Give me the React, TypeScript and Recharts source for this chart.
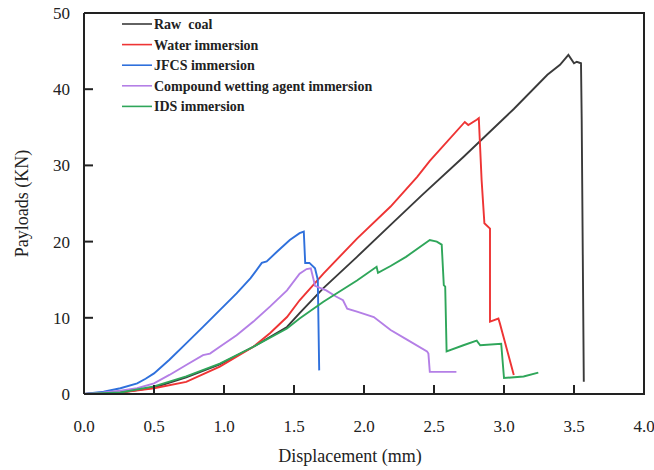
import React from "react";
import { LineChart, Line, XAxis, YAxis, Legend } from "recharts";

// load–displacement curves, [displacement (mm), payload (kN)]
const rawCoal: [number, number][] = [
  [0, 0], [0.26, 0.2], [0.5, 0.85], [0.73, 2.2], [0.97, 3.9], [1.21, 6.2],
  [1.45, 8.8], [1.54, 10.6], [1.71, 13.9], [1.95, 18.0], [2.19, 22.2],
  [2.42, 26.2], [2.71, 31.1], [3.07, 37.4], [3.31, 41.9], [3.4, 43.2],
  [3.46, 44.5], [3.5, 43.4], [3.52, 43.6], [3.55, 43.4], [3.555, 36.0],
  [3.57, 1.6],
];

const waterImmersion: [number, number][] = [
  [0, 0], [0.26, 0.2], [0.5, 0.75], [0.73, 1.6], [0.97, 3.6], [1.21, 6.2],
  [1.33, 8.0], [1.45, 10.1], [1.54, 12.3], [1.71, 15.8], [1.95, 20.4],
  [2.19, 24.6], [2.38, 28.5], [2.47, 30.6], [2.72, 35.7], [2.745, 35.3],
  [2.805, 36.0], [2.82, 36.2], [2.84, 28.1], [2.86, 22.4], [2.9, 21.7],
  [2.9, 9.5], [2.96, 9.9], [2.97, 9.3], [3.07, 2.5],
];

const jfcsImmersion: [number, number][] = [
  [0, 0], [0.14, 0.3], [0.26, 0.75], [0.38, 1.4], [0.44, 2.0], [0.5, 2.7],
  [0.61, 4.5], [0.73, 6.65], [0.85, 8.8], [0.97, 11.0], [1.09, 13.2],
  [1.19, 15.2], [1.27, 17.2], [1.305, 17.4], [1.38, 18.7], [1.47, 20.2],
  [1.54, 21.1], [1.57, 21.3], [1.58, 17.2], [1.61, 17.2], [1.65, 16.5],
  [1.67, 15.0], [1.68, 3.1],
];

const compoundImmersion: [number, number][] = [
  [0, 0], [0.14, 0.2], [0.26, 0.45], [0.38, 0.75], [0.5, 1.4], [0.61, 2.5],
  [0.73, 3.8], [0.85, 5.1], [0.9, 5.3], [0.97, 6.2], [1.09, 7.7],
  [1.21, 9.5], [1.33, 11.5], [1.45, 13.6], [1.54, 15.8], [1.59, 16.4],
  [1.62, 16.5], [1.64, 15.0], [1.65, 14.2], [1.69, 13.9], [1.73, 13.6],
  [1.8, 12.8], [1.85, 12.3], [1.88, 11.2], [1.95, 10.8], [2.07, 10.1],
  [2.19, 8.4], [2.31, 7.1], [2.45, 5.6], [2.46, 5.3], [2.47, 2.9],
  [2.66, 2.9],
];

const idsImmersion: [number, number][] = [
  [0, 0], [0.26, 0.2], [0.5, 1.0], [0.73, 2.3], [0.97, 4.0], [1.21, 6.2],
  [1.45, 8.6], [1.54, 9.9], [1.71, 12.1], [1.95, 14.9], [2.09, 16.7],
  [2.1, 15.9], [2.19, 16.8], [2.3, 18.0], [2.47, 20.2], [2.52, 20.0],
  [2.555, 19.6], [2.57, 14.3], [2.58, 14.1], [2.59, 5.6], [2.71, 6.4],
  [2.805, 7.0], [2.83, 6.4], [2.98, 6.6], [3.0, 2.1], [3.14, 2.3],
  [3.245, 2.8],
];

const xTicks = [0, 0.5, 1, 1.5, 2, 2.5, 3, 3.5, 4];
const yTicks = [0, 10, 20, 30, 40, 50];

const FONT = "'Liberation Serif', 'Times New Roman', serif";
const INK = "#222";

// chart box
const W = 654;
const H = 470;
const M = { top: 13, right: 10, bottom: 0, left: 0 };
const Y_AXIS_W = 84;
const X_AXIS_H = 76;
const PLOT_LEFT = M.left + Y_AXIS_W;
const PLOT_RIGHT = W - M.right;
const PLOT_TOP = M.top;
const PLOT_BOTTOM = H - M.bottom - X_AXIS_H;

const series = [
  { name: "Raw  coal", points: rawCoal, color: "#3a3a3a", key: "raw" },
  { name: "Water immersion", points: waterImmersion, color: "#ee3434", key: "water" },
  { name: "JFCS immersion", points: jfcsImmersion, color: "#2f70dc", key: "jfcs" },
  { name: "Compound wetting agent immersion", points: compoundImmersion, color: "#b47fe6", key: "compound" },
  { name: "IDS immersion", points: idsImmersion, color: "#2fa65a", key: "ids" },
];

const toRows = (pts: [number, number][]) => pts.map(([x, y]) => ({ x, y }));

// bottom ticks point up into the plot, label underneath
const XTick = (props: any) => {
  const { x, y, payload } = props;
  return (
    <g>
      <line x1={x} y1={y} x2={x} y2={y - 9} stroke={INK} strokeWidth={2} />
      <text x={x} y={y + 38} textAnchor='middle' fontSize={17} fill={INK} fontFamily={FONT}>
        {Number(payload.value).toFixed(1)}
      </text>
    </g>
  );
};

// left ticks point right into the plot
const YTick = (props: any) => {
  const { x, y, payload } = props;
  return (
    <g>
      <line x1={x} y1={y} x2={x + 9} y2={y} stroke={INK} strokeWidth={2} />
      <text x={x - 14} y={y + 6} textAnchor='end' fontSize={17} fill={INK} fontFamily={FONT}>
        {payload.value}
      </text>
    </g>
  );
};

// legend overlay spans the whole chart; it also closes the box (top + right edges)
const renderLegend = () => (
  <svg width={W} height={H} style={{ display: "block" }}>
    <polyline
      points={`${PLOT_LEFT},${PLOT_TOP} ${PLOT_RIGHT},${PLOT_TOP} ${PLOT_RIGHT},${PLOT_BOTTOM + 1}`}
      fill='none'
      stroke={INK}
      strokeWidth={2}
    />
    {series.map((s, i) => {
      const cy = 24 + i * 20.6;
      return (
        <g key={s.key}>
          <line x1={122} y1={cy} x2={152} y2={cy} stroke={s.color} strokeWidth={1.6} />
          <text
            x={154}
            y={cy + 5}
            fontSize={14}
            fontWeight='bold'
            fill={INK}
            fontFamily={FONT}
            style={{ whiteSpace: "pre" }}>
            {s.name}
          </text>
        </g>
      );
    })}
  </svg>
);

export default function App() {
  return (
    <div style={{ position: "absolute", left: 0, top: 0, width: W, height: H, background: "#fff" }}>
      <LineChart width={W} height={H} margin={M}>
        <XAxis
          type='number'
          dataKey='x'
          domain={[0, 4]}
          ticks={xTicks}
          interval={0}
          height={X_AXIS_H}
          tickSize={0}
          tickMargin={0}
          tickLine={false}
          axisLine={{ stroke: INK, strokeWidth: 2 }}
          tick={<XTick />}
          allowDataOverflow
          label={{
            value: "Displacement (mm)",
            position: "insideBottom",
            offset: 8,
            dx: -14,
            style: { fontFamily: FONT, fontSize: 18, fill: INK },
          }}
        />
        <YAxis
          type='number'
          domain={[0, 50]}
          ticks={yTicks}
          interval={0}
          width={Y_AXIS_W}
          tickSize={0}
          tickMargin={0}
          tickLine={false}
          axisLine={{ stroke: INK, strokeWidth: 2 }}
          tick={<YTick />}
          allowDataOverflow
          label={{
            value: "Payloads (KN)",
            angle: -90,
            position: "insideLeft",
            offset: 22,
            style: { fontFamily: FONT, fontSize: 18, fill: INK, textAnchor: "middle" },
          }}
        />
        <Legend
          layout='vertical'
          align='center'
          verticalAlign='middle'
          content={renderLegend}
          wrapperStyle={{ left: 0, top: 0, width: W, height: H, pointerEvents: "none" }}
        />
        {series.map((s) => (
          <Line
            key={s.key}
            name={s.name}
            data={toRows(s.points)}
            dataKey='y'
            type='linear'
            stroke={s.color}
            strokeWidth={1.9}
            dot={false}
            activeDot={false}
            isAnimationActive={false}
          />
        ))}
      </LineChart>
    </div>
  );
}
